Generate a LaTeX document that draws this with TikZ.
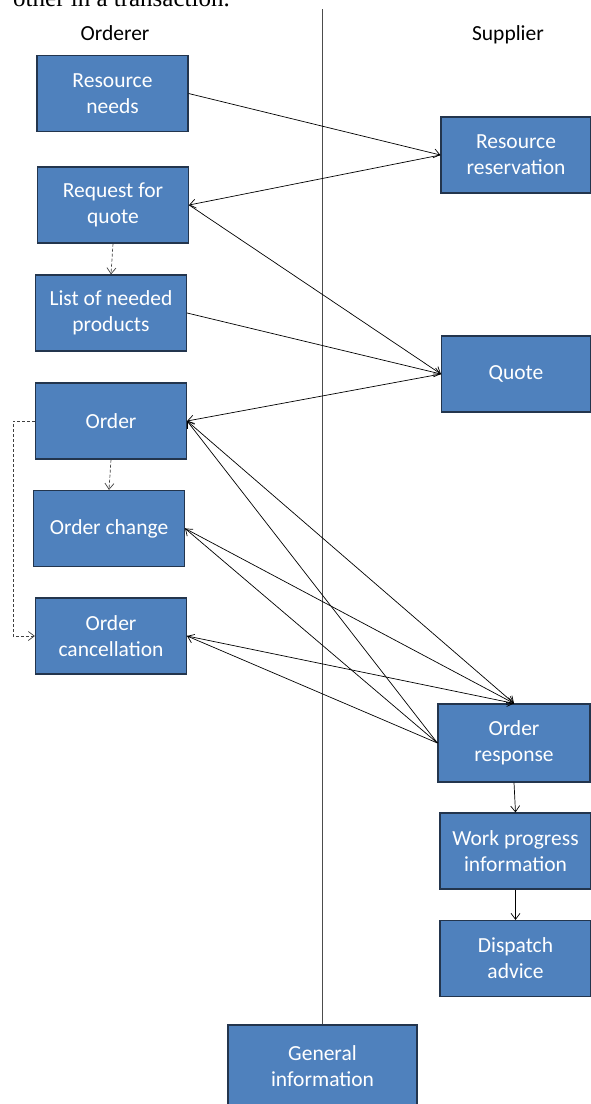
\documentclass[tikz,border=0pt]{standalone}
\usepackage{fontspec}
\setmainfont{Carlito}
\newfontfamily\bodyserif{Liberation Serif}
\usetikzlibrary{arrows.meta}
\definecolor{boxfill}{HTML}{4F81BD}
\definecolor{boxedge}{HTML}{23354D}
\begin{document}
\begin{tikzpicture}[x=1pt,y=-1pt,
  msgbox/.style={draw=boxedge, line width=1.2pt, fill=boxfill, text=white,
    align=center, font=\fontsize{21.5}{26}\selectfont, inner sep=0pt,
    minimum width=151pt, minimum height=76pt},
  party/.style={font=\fontsize{21.5}{26}\selectfont, anchor=base, inner sep=0pt},
  flow/.style={line width=0.7pt, -{Straight Barb[length=6pt,width=9pt]}},
  dflow/.style={flow, black!75, dash pattern=on 3pt off 2pt},
  divider/.style={line width=1.2pt, black!70}]
\useasboundingbox (0,0) rectangle (591,1104);

% running text above the figure
\node[anchor=base west, inner sep=0pt, font=\bodyserif\fontsize{25}{30}\selectfont]
  (caption) at (13,6.5) {other in a transaction.};

% party headings
\node[party] (orderer) at (115,40) {Orderer};
\node[party] (supplier) at (508,40) {Supplier};

% orderer side
\node[msgbox] (rn) at (112.5,93.5) {Resource\\needs};
\node[msgbox] (rfq) at (113,205) {Request for\\quote};
\node[msgbox] (list) at (111,313) {List of needed\\products};
\node[msgbox] (order) at (111,421) {Order};
\node[msgbox] (chg) at (109,528.5) {Order change};
\node[msgbox] (cancel) at (111,636) {Order\\cancellation};

% supplier side
\node[msgbox, minimum width=150pt] (rr) at (516,155) {Resource\\reservation};
\node[msgbox, minimum width=149pt] (quote) at (516,374) {Quote};
\node[msgbox, minimum width=152pt, minimum height=78pt] (resp) at (514,743) {Order\\response};
\node[msgbox, minimum width=151pt] (wpi) at (515.5,851) {Work progress\\information};
\node[msgbox, minimum width=151pt] (da) at (515.5,958.5) {Dispatch\\advice};

% shared
\node[msgbox, minimum width=189pt, minimum height=82pt] (gen) at (322.5,1066) {General\\information};

% dividing line
\coordinate (divtop) at (322.5,9);
\draw[divider] (divtop) -- (gen.north);

% message flows
\draw[flow] (rn.east) -- (rr.west);
\draw[flow] (rr.west) -- (rfq.east);
\draw[flow] (rfq.east) -- (quote.west);
\draw[flow] (list.east) -- (quote.west);
\draw[flow] (quote.west) -- (order.east);
\foreach \m in {order,chg,cancel}{
  \draw[flow] (\m.east) -- (resp.north);
  \draw[flow] (resp.west) -- (\m.east);
}
\draw[flow] (resp.south) -- (wpi.north);
\draw[flow] (wpi.south) -- (da.north);

% internal sequence
\draw[dflow] (rfq.south) -- (list.north);
\draw[dflow] (order.south) -- (chg.north);
\draw[dflow] (order.west) -- ++(-22,0) |- (cancel.west);
\end{tikzpicture}
\end{document}
